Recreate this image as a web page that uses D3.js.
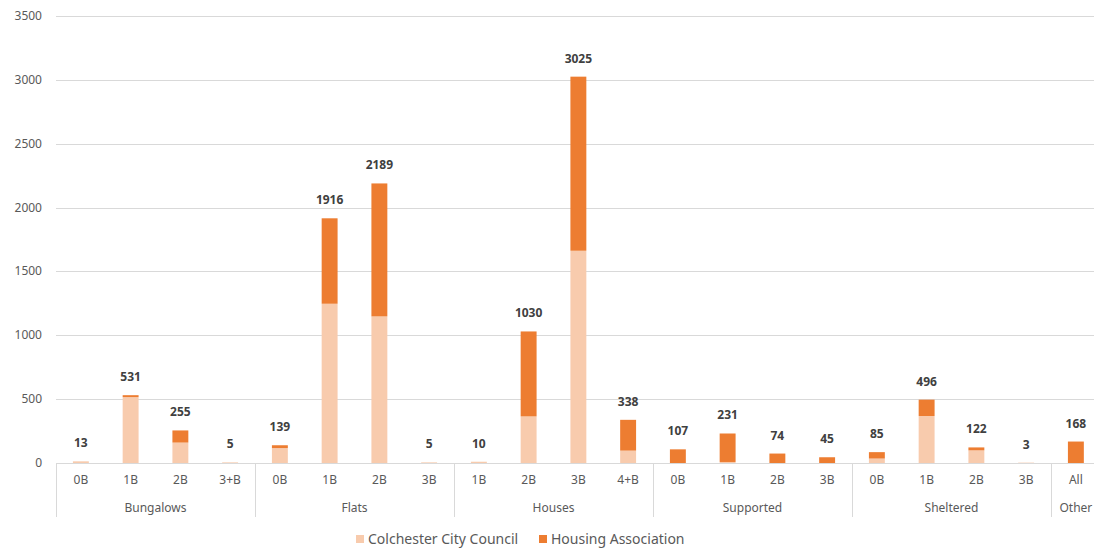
<!DOCTYPE html>
<html>
<head>
<meta charset="utf-8">
<script src="https://cdn.jsdelivr.net/npm/d3@7"></script>
<style>
  body { margin: 0; background: #fff; }
  svg { font-family: "Noto Sans", "Open Sans", sans-serif; }
</style>
</head>
<body>
<div id="chart"></div>
<script>
// groups and sub-categories
var groups = ['Bungalows', 'Flats', 'Houses', 'Supported', 'Sheltered', 'Other'];
var groupOf = ['Bungalows','Bungalows','Bungalows','Bungalows',
  'Flats','Flats','Flats','Flats',
  'Houses','Houses','Houses','Houses',
  'Supported','Supported','Supported','Supported',
  'Sheltered','Sheltered','Sheltered','Sheltered',
  'Other'];
var beds = ['0B','1B','2B','3+B', '0B','1B','2B','3B', '1B','2B','3B','4+B',
  '0B','1B','2B','3B', '0B','1B','2B','3B', 'All'];

// series values
var council = [13, 516, 160, 5, 117, 1247, 1148, 5, 10, 365, 1662, 97,
  0, 8, 0, 0, 35, 368, 99, 3, 0];
var housingAssoc = [0, 15, 95, 0, 22, 669, 1041, 0, 0, 665, 1363, 241,
  107, 223, 74, 45, 50, 128, 23, 0, 168];
var totals = [13, 531, 255, 5, 139, 1916, 2189, 5, 10, 1030, 3025, 338,
  107, 231, 74, 45, 85, 496, 122, 3, 168];

var yTicks = [0, 500, 1000, 1500, 2000, 2500, 3000, 3500];

var W = 1094, H = 556;
var plotLeft = 56, plotRight = 1100.75, plotTop = 16, plotBottom = 463;

var svg = d3.select('#chart').append('svg')
  .attr('width', W)
  .attr('height', H);

var keys = beds.map(function(b, i) { return i; });
var rows = keys.map(function(i) {
  return { i: i, council: council[i], ha: housingAssoc[i] };
});

var x = d3.scaleBand()
  .domain(keys)
  .range([plotLeft, plotRight])
  .paddingInner(0.68)
  .paddingOuter(0.34);

var y = d3.scaleLinear()
  .domain([0, 3500])
  .range([plotBottom, plotTop]);

// gridlines
svg.append('g')
  .selectAll('line')
  .data(yTicks.slice(1))
  .enter().append('line')
  .attr('x1', plotLeft)
  .attr('x2', W)
  .attr('y1', function(d) { return Math.round(y(d)) + 0.5; })
  .attr('y2', function(d) { return Math.round(y(d)) + 0.5; })
  .attr('stroke', '#d9d9d9')
  .attr('stroke-width', 1);

// y labels
svg.append('g')
  .selectAll('text')
  .data(yTicks)
  .enter().append('text')
  .attr('x', 42)
  .attr('y', function(d) { return y(d) + 4; })
  .attr('text-anchor', 'end')
  .attr('font-size', 12)
  .attr('fill', '#595959')
  .text(function(d) { return d; });

// stacked bars
var stack = d3.stack().keys(['council', 'ha']);
var series = stack(rows);
var colors = { council: '#F8CBAD', ha: '#ED7D31' };

svg.append('g')
  .selectAll('g')
  .data(series)
  .enter().append('g')
  .attr('fill', function(s) { return colors[s.key]; })
  .selectAll('rect')
  .data(function(s) { return s; })
  .enter().append('rect')
  .attr('x', function(d) { return x(d.data.i); })
  .attr('y', function(d) { return y(d[1]); })
  .attr('width', x.bandwidth())
  .attr('height', function(d) { return y(d[0]) - y(d[1]); });

// total labels
svg.append('g')
  .selectAll('text')
  .data(keys)
  .enter().append('text')
  .attr('x', function(i) { return x(i) + x.bandwidth() / 2; })
  .attr('y', function(i) { return y(totals[i]) - 14; })
  .attr('text-anchor', 'middle')
  .attr('font-size', 12)
  .attr('font-weight', 'bold')
  .attr('fill', '#404040')
  .text(function(i) { return totals[i]; });

// x axis line
svg.append('line')
  .attr('x1', plotLeft)
  .attr('x2', W)
  .attr('y1', plotBottom + 0.5)
  .attr('y2', plotBottom + 0.5)
  .attr('stroke', '#d9d9d9');

// group separators
var step = x.step();
var groupStart = groups.map(function(g) { return groupOf.indexOf(g); });
var groupSize = groups.map(function(g) {
  return groupOf.filter(function(v) { return v === g; }).length;
});
var seps = groupStart.concat([beds.length]);
svg.append('g')
  .selectAll('line')
  .data(seps)
  .enter().append('line')
  .attr('x1', function(k) { return Math.round(plotLeft + k * step) + 0.5; })
  .attr('x2', function(k) { return Math.round(plotLeft + k * step) + 0.5; })
  .attr('y1', plotBottom)
  .attr('y2', 517)
  .attr('stroke', '#d9d9d9');

// bed labels
svg.append('g')
  .selectAll('text')
  .data(keys)
  .enter().append('text')
  .attr('x', function(i) { return x(i) + x.bandwidth() / 2; })
  .attr('y', 484)
  .attr('text-anchor', 'middle')
  .attr('font-size', 12)
  .attr('fill', '#595959')
  .text(function(i) { return beds[i]; });

// group labels
svg.append('g')
  .selectAll('text')
  .data(groups)
  .enter().append('text')
  .attr('x', function(g, j) { return plotLeft + (groupStart[j] + groupSize[j] / 2) * step; })
  .attr('y', 512)
  .attr('text-anchor', 'middle')
  .attr('font-size', 12)
  .attr('fill', '#595959')
  .text(function(g) { return g; });

// legend
var legend = [
  { name: 'Colchester City Council', color: '#F8CBAD', x: 356 },
  { name: 'Housing Association', color: '#ED7D31', x: 539 }
];
var lg = svg.append('g')
  .selectAll('g')
  .data(legend)
  .enter().append('g');
lg.append('rect')
  .attr('x', function(d) { return d.x; })
  .attr('y', 535)
  .attr('width', 8)
  .attr('height', 8)
  .attr('fill', function(d) { return d.color; });
lg.append('text')
  .attr('x', function(d) { return d.x + 12; })
  .attr('y', 544)
  .attr('font-size', 14)
  .attr('fill', '#595959')
  .text(function(d) { return d.name; });
</script>
</body>
</html>
